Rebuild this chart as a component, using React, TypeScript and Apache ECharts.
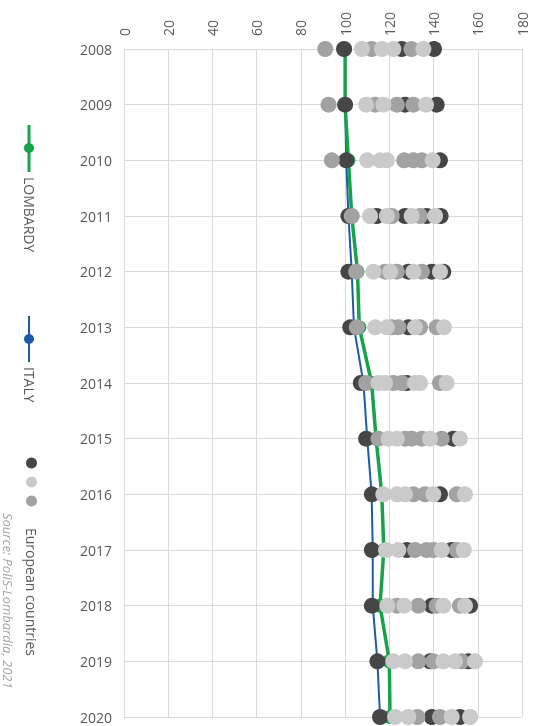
import React, { useEffect, useRef } from "react";
import * as echarts from "echarts";

const years = ["2008", "2009", "2010", "2011", "2012", "2013", "2014", "2015", "2016", "2017", "2018", "2019", "2020"];
const xTicks = [0, 20, 40, 60, 80, 100, 120, 140, 160, 180];

const lombardy = [100, 100, 101.5, 103, 105.6, 106.4, 112, 114, 116.6, 117.5, 115.8, 120, 120.3];
const italy = [100, 100, 100.5, 101.5, 103, 104, 108.3, 110, 112, 112.5, 112.5, 114.6, 115.8];

// European countries, per year, grouped by shade
const darkGroup = [
  [99.5, 125.6, 140.2],
  [100, 127.1, 141.4],
  [100.5, 142.9],
  [101.5, 114.3, 127.1, 136.9, 143.2],
  [101.5, 128.6, 139.2, 144.4],
  [102.3, 128.6],
  [107.1, 127.9],
  [109.5, 148.9],
  [112.1, 142.9],
  [112.1, 127.9, 148.2],
  [112.1, 139.2, 156.5],
  [114.6, 138.4, 155.7],
  [115.8, 139.2, 151.9],
];
const lightGroup = [
  [107.6, 116.6, 121.8, 135.4],
  [109.5, 117.3, 136.6],
  [110, 115.8, 118.9, 139.6],
  [111.3, 118.9, 130.1, 140.7],
  [112.8, 120.4, 130.9, 142.9],
  [113.6, 118.9, 131.6, 144.7],
  [115.1, 118.1, 131.6, 133.9, 145.9],
  [119.6, 123.4, 138.4, 151.9],
  [117.3, 123.4, 127.1, 139.9, 154.2],
  [118.5, 124.1, 143.7, 153.7],
  [119.1, 126.7, 144.4, 154.2],
  [121.8, 127.1, 144.4, 149.7, 158.7],
  [122.6, 128.6, 148.2, 156.5],
];
const midGroup = [
  [91, 112, 130],
  [92.5, 113.6, 123.4, 130.9],
  [94, 126.7, 130.9, 134.7],
  [103, 121.1, 133.9],
  [105, 118.1, 123.4, 134.7],
  [105.3, 121.1, 124.1, 133.9, 141.4],
  [109.5, 121.8, 125.6, 142.9],
  [115.1, 127.1, 130.1, 134.7, 143.7],
  [130.9, 136.1, 150.5],
  [131.6, 136.9, 139.9, 150.5],
  [123.4, 133.1, 141.4, 151.9],
  [133.1, 139.9, 152.7],
  [132.7, 142.9],
];

const GREEN = "#17a34a";
const BLUE = "#1f5aa8";
const DARK = "#464646";
const LIGHT = "#cacaca";
const MID = "#a2a2a2";
const TEXT = "#595959";
const FONT = "'Open Sans', sans-serif";

const toPoints = (groups: number[][]) =>
  groups.flatMap((vals, i) => vals.map((v) => [v, years[i]]));

export default function App() {
  const ref = useRef<HTMLDivElement>(null);
  useEffect(() => {
    if (!ref.current) return;
    const chart = echarts.init(ref.current, undefined, { renderer: "svg" });
    const scatter = (name: string, color: string, groups: number[][]) => ({
      name,
      type: "scatter",
      data: toPoints(groups),
      symbolSize: 16,
      clip: false,
      itemStyle: { color, opacity: 1 },
      z: 3,
    });
    chart.setOption({
      animation: false,
      grid: { left: 124, right: 14, top: 49, bottom: 9, containLabel: false },
      xAxis: {
        type: "value",
        position: "top",
        min: xTicks[0],
        max: xTicks[xTicks.length - 1],
        interval: 20,
        axisLine: { show: false },
        axisTick: { show: false },
        axisLabel: { rotate: -90, color: TEXT, fontSize: 14, fontFamily: FONT, margin: 13 },
        splitLine: { show: true, lineStyle: { color: "#d9d9d9", width: 1 } },
      },
      yAxis: {
        type: "category",
        data: years,
        inverse: true,
        boundaryGap: false,
        axisLine: { show: true, lineStyle: { color: "#d9d9d9" } },
        axisTick: { show: false },
        axisLabel: { color: TEXT, fontSize: 14, fontFamily: FONT, margin: 12 },
        splitLine: { show: true, lineStyle: { color: "#d9d9d9", width: 1 } },
      },
      series: [
        {
          name: "ITALY",
          type: "line",
          data: italy.map((v, i) => [v, years[i]]),
          symbol: "circle",
          symbolSize: 12,
          clip: false,
          lineStyle: { color: BLUE, width: 2 },
          itemStyle: { color: BLUE },
          z: 2,
        },
        {
          name: "LOMBARDY",
          type: "line",
          data: lombardy.map((v, i) => [v, years[i]]),
          symbol: "circle",
          symbolSize: 14,
          clip: false,
          lineStyle: { color: GREEN, width: 3.5 },
          itemStyle: { color: GREEN },
          z: 2,
        },
        scatter("dark", DARK, darkGroup),
        scatter("mid", MID, midGroup),
        scatter("light", LIGHT, lightGroup),
      ],
      graphic: [
        { type: "line", shape: { x1: 29, y1: 125, x2: 29, y2: 172 }, style: { stroke: GREEN, lineWidth: 3 } },
        { type: "circle", shape: { cx: 29, cy: 148, r: 5 }, style: { fill: GREEN } },
        {
          type: "text", x: 29, y: 177, rotation: -Math.PI / 2,
          style: { text: "LOMBARDY", fill: TEXT, font: `14px ${FONT}`, align: "left", verticalAlign: "middle" },
        },
        { type: "line", shape: { x1: 29, y1: 316, x2: 29, y2: 362 }, style: { stroke: BLUE, lineWidth: 2 } },
        { type: "circle", shape: { cx: 29, cy: 339, r: 5 }, style: { fill: BLUE } },
        {
          type: "text", x: 29, y: 367, rotation: -Math.PI / 2,
          style: { text: "ITALY", fill: TEXT, font: `14px ${FONT}`, align: "left", verticalAlign: "middle" },
        },
        { type: "circle", shape: { cx: 31.5, cy: 463, r: 5.5 }, style: { fill: DARK } },
        { type: "circle", shape: { cx: 31.5, cy: 482, r: 5.5 }, style: { fill: LIGHT } },
        { type: "circle", shape: { cx: 31.5, cy: 501, r: 5.5 }, style: { fill: MID } },
        {
          type: "text", x: 31.5, y: 528, rotation: -Math.PI / 2,
          style: { text: "European countries", fill: TEXT, font: `14px ${FONT}`, align: "left", verticalAlign: "middle" },
        },
        {
          type: "text", x: 8, y: 513, rotation: -Math.PI / 2,
          style: { text: "Source: PoliS-Lombardia, 2021", fill: "#a6a6a6", font: `italic 13px ${FONT}`, align: "left", verticalAlign: "middle" },
        },
      ],
    });
    return () => chart.dispose();
  }, []);
  return <div ref={ref} style={{ position: "fixed", left: 0, top: 0, width: 536, height: 726 }} />;
}
